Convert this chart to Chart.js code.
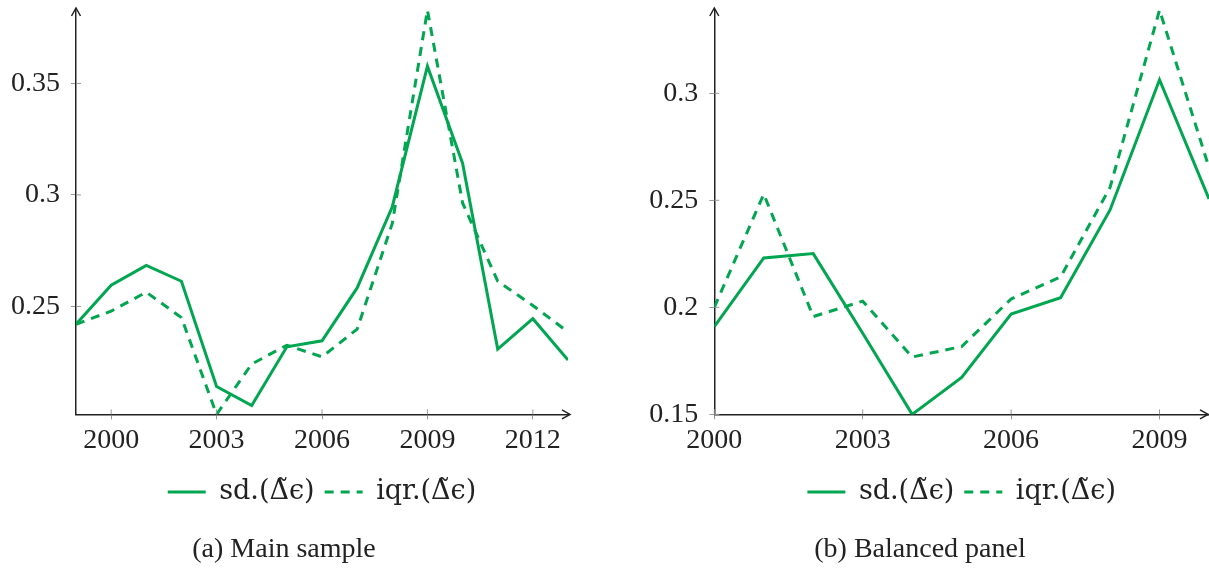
<!DOCTYPE html>
<html>
<head>
<meta charset="utf-8">
<script src="https://cdn.jsdelivr.net/npm/chart.js@4/dist/chart.umd.min.js"></script>
<style>
  body { margin: 0; background: #fff; overflow: hidden; }
  #wrapA { position: absolute; left: 0; top: 0; }
  #wrapB { position: absolute; left: 600px; top: 0; }
</style>
</head>
<body>
<div id="wrapA"><canvas id="chartA" width="600" height="568"></canvas></div>
<div id="wrapB"><canvas id="chartB" width="609" height="568"></canvas></div>
<script>
// panel (a) main sample
var yearsA = [1999, 2000, 2001, 2002, 2003, 2004, 2005, 2006, 2007, 2008, 2009, 2010, 2011, 2012, 2013];
var sdA  = [0.242, 0.2595, 0.2684, 0.2613, 0.2141, 0.2056, 0.2319, 0.2346, 0.2583, 0.2947, 0.3577, 0.3142, 0.2309, 0.2445, 0.226];
var iqrA = [0.242, 0.2479, 0.2564, 0.245, 0.2016, 0.2242, 0.2326, 0.2274, 0.2398, 0.2872, 0.3829, 0.2964, 0.2613, 0.2504, 0.2386];
var xTicksA = [2000, 2003, 2006, 2009, 2012];
var yTicksA = [0.25, 0.3, 0.35];

// panel (b) balanced panel
var yearsB = [2000, 2001, 2002, 2003, 2004, 2005, 2006, 2007, 2008, 2009, 2010];
var sdB  = [0.191, 0.2231, 0.2251, 0.1879, 0.150, 0.1673, 0.1969, 0.2045, 0.2455, 0.3063, 0.2506];
var iqrB = [0.200, 0.2529, 0.1957, 0.2029, 0.1768, 0.1817, 0.2039, 0.2142, 0.256, 0.3389, 0.2653];
var xTicksB = [2000, 2003, 2006, 2009];
var yTicksB = [0.15, 0.2, 0.25, 0.3];

var seriesNames = ['sd.(\u0394\u0303\u03F5)', 'iqr.(\u0394\u0303\u03F5)'];

var green = '#00a650';
var ink = '#222';
var fontFam = "'Liberation Serif', 'DejaVu Serif', serif";
var legendFam = "'DejaVu Serif', 'Liberation Serif', serif";

function pts(xs, ys) {
  return xs.map(function (x, i) { return { x: x, y: ys[i] }; });
}

// arrow heads at the end of both axes, tick marks crossing the axes
var axisDeco = {
  id: 'axisDeco',
  afterDraw: function (chart) {
    var c = chart.ctx, a = chart.chartArea;
    var tipX = Math.min(a.right + 2, chart.width - 1);
    c.save();
    c.strokeStyle = '#999';
    c.lineWidth = 1;
    c.beginPath();
    chart.scales.x.ticks.forEach(function (t) {
      var px = chart.scales.x.getPixelForValue(t.value);
      c.moveTo(px, a.bottom); c.lineTo(px, a.bottom - 5);
    });
    chart.scales.y.ticks.forEach(function (t) {
      var py = chart.scales.y.getPixelForValue(t.value);
      c.moveTo(a.left, py); c.lineTo(a.left + 5, py);
    });
    c.stroke();
    c.strokeStyle = ink;
    c.lineWidth = 1.5;
    c.beginPath();
    c.moveTo(a.right, a.bottom); c.lineTo(tipX, a.bottom);
    c.moveTo(tipX - 8, a.bottom - 4.5); c.lineTo(tipX, a.bottom); c.lineTo(tipX - 8, a.bottom + 4.5);
    c.moveTo(a.left, a.top); c.lineTo(a.left, a.top - 2);
    c.moveTo(a.left - 4.5, a.top + 6); c.lineTo(a.left, a.top - 2); c.lineTo(a.left + 4.5, a.top + 6);
    c.stroke();
    c.restore();
  }
};

function makeChart(id, years, sd, iqr, xTicks, yTicks, caption, padL, padR, yAxisW) {
  var ymin = Math.min.apply(null, sd.concat(iqr));
  var ymax = Math.max.apply(null, sd.concat(iqr));
  return new Chart(document.getElementById(id), {
    type: 'line',
    data: {
      datasets: [{
        label: seriesNames[0],
        data: pts(years, sd),
        borderColor: green,
        backgroundColor: green,
        borderWidth: 3,
        pointRadius: 0,
        tension: 0
      }, {
        label: seriesNames[1],
        data: pts(years, iqr),
        borderColor: green,
        backgroundColor: green,
        borderWidth: 3,
        borderDash: [9, 7],
        pointRadius: 0,
        tension: 0
      }]
    },
    options: {
      responsive: false,
      animation: false,
      events: [],
      layout: { padding: { left: padL, right: padR, top: 10, bottom: 2 } },
      scales: {
        x: {
          type: 'linear',
          min: years[0],
          max: years[years.length - 1],
          afterBuildTicks: function (s) { s.ticks = xTicks.map(function (v) { return { value: v }; }); },
          afterFit: function (s) { s.height = 54; s.paddingLeft = 0; s.paddingRight = 0; },
          grid: { drawOnChartArea: false, drawTicks: true, tickLength: 5, color: '#999' },
          border: { display: true, color: ink, width: 1.5 },
          ticks: {
            color: ink, padding: 4, maxRotation: 0,
            font: { family: fontFam, size: 28 },
            callback: function (v) { return String(v); }
          }
        },
        y: {
          type: 'linear',
          min: ymin,
          max: ymax,
          afterBuildTicks: function (s) { s.ticks = yTicks.map(function (v) { return { value: v }; }); },
          afterFit: function (s) { s.width = yAxisW; s.paddingTop = 0; s.paddingBottom = 0; },
          grid: { drawOnChartArea: false, drawTicks: true, tickLength: 5, color: '#999' },
          border: { display: true, color: ink, width: 1.5 },
          ticks: {
            color: ink, padding: 11,
            font: { family: fontFam, size: 28 },
            callback: function (v) { return String(v); }
          }
        }
      },
      plugins: {
        legend: {
          position: 'bottom',
          fullSize: false,
          labels: {
            usePointStyle: true,
            pointStyle: 'line',
            pointStyleWidth: 38,
            padding: 10,
            color: ink,
            font: { family: legendFam, size: 27 },
            generateLabels: function (chart) {
              return chart.data.datasets.map(function (ds, i) {
                return {
                  text: ds.label,
                  datasetIndex: i,
                  strokeStyle: ds.borderColor,
                  fillStyle: ds.borderColor,
                  lineWidth: ds.borderWidth,
                  lineDash: ds.borderDash || [],
                  pointStyle: 'line',
                  fontColor: ink,
                  hidden: false
                };
              });
            }
          }
        },
        title: {
          display: true,
          position: 'bottom',
          text: caption,
          color: ink,
          padding: { top: 17, bottom: 0 },
          font: { family: fontFam, size: 28, weight: 'normal' }
        },
        tooltip: { enabled: false }
      }
    },
    plugins: [axisDeco]
  });
}

makeChart('chartA', yearsA, sdA, iqrA, xTicksA, yTicksA, '(a) Main sample', 0, 32, 76);
makeChart('chartB', yearsB, sdB, iqrB, xTicksB, yTicksB, '(b) Balanced panel', 31, 0, 83.3);
</script>
</body>
</html>
